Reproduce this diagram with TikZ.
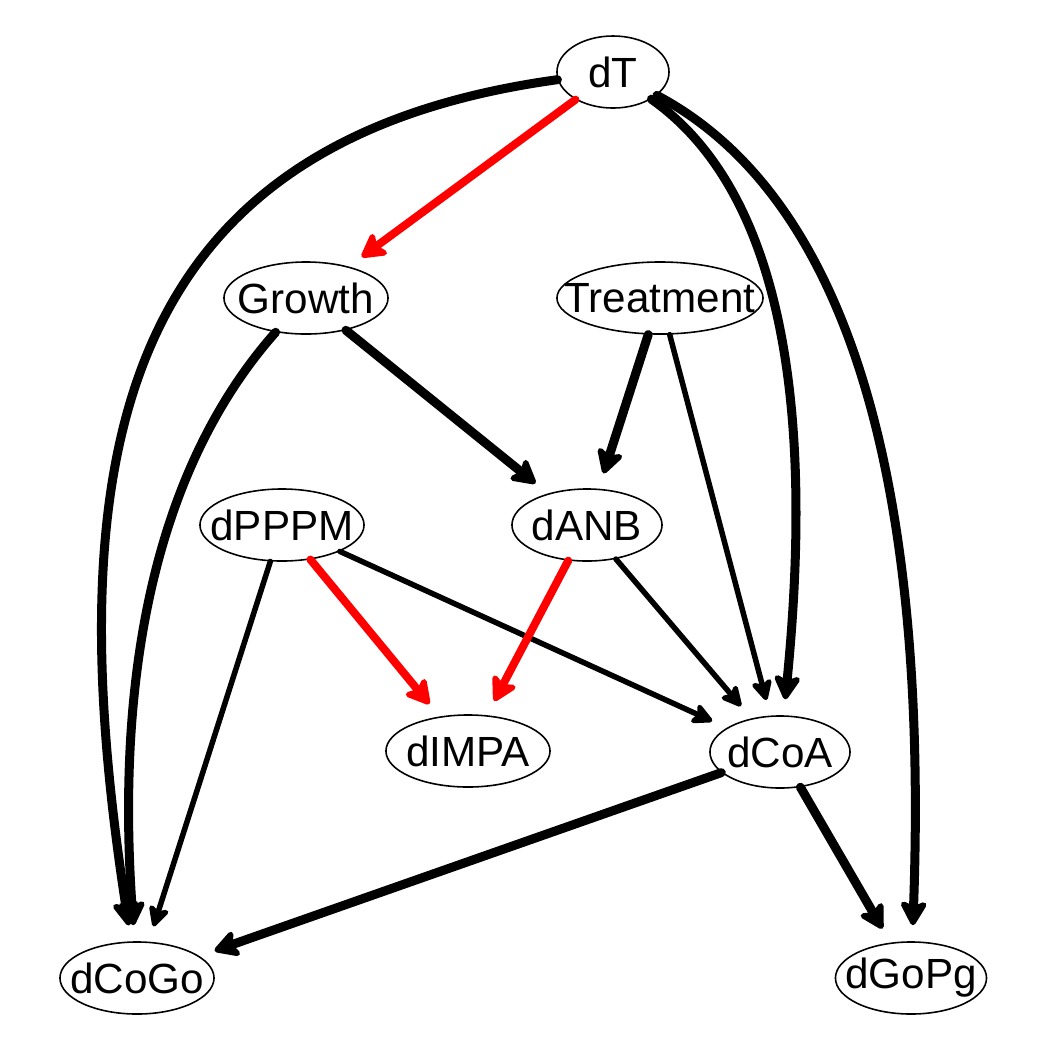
\documentclass[tikz,border=0pt]{standalone}
\usepackage{fontspec}
\setmainfont{Liberation Sans}
\usetikzlibrary{arrows.meta,shapes.geometric}
\definecolor{negred}{HTML}{FF0000}
\newcommand\lbl[1]{\makebox[0pt]{#1}}

\begin{document}
\begin{tikzpicture}[x=0.01cm,y=-0.01cm,
    var/.style={ellipse,draw,line width=0.45pt,inner sep=0pt,minimum height=7.2mm,font=\fontsize{12}{14}\selectfont},
    strong/.style={line width=0.9mm,line cap=round,shorten >=1.6mm,-{Stealth[length=2.9mm,width=3.2mm,inset=0.7mm,round]}},
    weak/.style={line width=0.55mm,line cap=round,shorten >=1.6mm,-{Stealth[length=2.5mm,width=2.5mm,inset=0.6mm,round]}},
    neg/.style={strong,negred,line width=0.8mm}]
    \useasboundingbox (0,0) rectangle (1050,1050);
    % variables
    \foreach \n/\x/\y/\w in {dT/613/72/11.2, Growth/306/298/16.4, Treatment/660/298/20.6,
      dPPPM/282/525/16.4, dANB/587/525/15, dIMPA/468/751/16.4, dCoA/780/752/14,
      dCoGo/137/978/15.4, dGoPg/911/978/15.1}
      \node[var,minimum width=\w mm] (\n) at (\x,\y) {\lbl{\n}};
    % straight paths
    \foreach \a/\b in {Growth/dANB, Treatment/dANB, dCoA/dCoGo, dCoA/dGoPg}
      \draw[strong] (\a) -- (\b);
    \foreach \a/\b in {Treatment/dCoA, dPPPM/dCoGo, dPPPM/dCoA, dANB/dCoA}
      \draw[weak] (\a) -- (\b);
    \foreach \a/\b in {dT/Growth, dPPPM/dIMPA, dANB/dIMPA}
      \draw[neg] (\a) -- (\b);
    % curved paths
    \draw[strong] (dT) .. controls (120,140) and (55,450) .. (dCoGo);
    \draw[strong] (Growth) .. controls (180,440) and (112,620) .. (dCoGo);
    \draw[strong] (dT) .. controls (780,190) and (815,400) .. (dCoA);
    \draw[strong] (dT) .. controls (835,190) and (930,450) .. (dGoPg);
  \end{tikzpicture}
\end{document}
